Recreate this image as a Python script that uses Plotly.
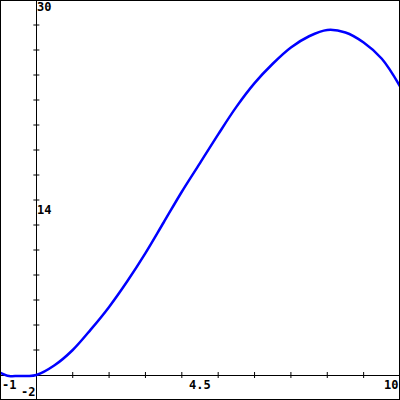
import plotly.graph_objects as go

# curve samples
x_vals = [-1.0, -0.75, -0.5, -0.25, 0.0, 0.5, 1.0, 1.5, 2.0, 2.5, 3.0, 3.5, 4.0,
          4.5, 5.0, 5.5, 6.0, 6.5, 7.0, 7.5, 8.0, 8.5, 9.0, 9.5, 10.0]
y_vals = [0.2, -0.08, -0.08, -0.08, 0.0, 0.78, 2.0, 3.65, 5.45, 7.5, 9.75, 12.2, 14.66,
          16.95, 19.25, 21.45, 23.35, 24.9, 26.2, 27.1, 27.6, 27.4, 26.6, 25.3, 23.1]

x_range = [-1, 10]
y_range = [-2, 30]
x_ticks = [1, 2, 3, 4, 5, 6, 7, 8, 9]
y_ticks = [2, 4, 6, 8, 10, 12, 14, 16, 18, 20, 22, 24, 26, 28]
x_labels = ["-1", "4.5", "10"]
x_label_pos = [-1, 4.5, 10]
y_labels = ["30", "14", "-2"]
y_label_pos = [30, 14, -2]

fig = go.Figure()
fig.add_trace(go.Scatter(x=x_vals, y=y_vals, mode="lines", line_shape="spline",
                         line=dict(color="#0000ff", width=2.5), hoverinfo="skip"))

shapes = []
for t in x_ticks:
    shapes.append(dict(type="line", xref="x", yref="y", ysizemode="pixel", yanchor=0,
                       x0=t, x1=t, y0=-3, y1=3, line=dict(color="black", width=1)))
for t in y_ticks:
    shapes.append(dict(type="line", xref="x", yref="y", xsizemode="pixel", xanchor=0,
                       x0=-3, x1=3, y0=t, y1=t, line=dict(color="black", width=1)))
shapes.append(dict(type="rect", xref="paper", yref="paper", x0=0, x1=1, y0=0, y1=1,
                   line=dict(color="black", width=2)))

font = dict(family="DejaVu Sans Mono", size=12, color="black")
ann = []
anchors_x = ["left", "center", "right"]
for lab, pos, xa in zip(x_labels, x_label_pos, anchors_x):
    ann.append(dict(x=pos, y=0, xref="x", yref="y", text="<b>%s</b>" % lab, showarrow=False,
                    xanchor=xa, yanchor="top", yshift=-1, font=font))
ann.append(dict(x=0, y=y_label_pos[0], xref="x", yref="y", text="<b>%s</b>" % y_labels[0],
                showarrow=False, xanchor="left", yanchor="top", yshift=2, xshift=-1, font=font))
ann.append(dict(x=0, y=y_label_pos[1], xref="x", yref="y", text="<b>%s</b>" % y_labels[1],
                showarrow=False, xanchor="left", yanchor="top", yshift=-1, xshift=-1, font=font))
ann.append(dict(x=0, y=y_label_pos[2], xref="x", yref="y", text="<b>%s</b>" % y_labels[2],
                showarrow=False, xanchor="right", yanchor="bottom", yshift=-1, xshift=1, font=font))

fig.update_layout(
    width=400, height=400, margin=dict(l=0, r=0, t=0, b=0),
    paper_bgcolor="white", plot_bgcolor="white", showlegend=False,
    xaxis=dict(range=x_range, showgrid=False, zeroline=True, zerolinecolor="black",
               zerolinewidth=1, showticklabels=False, ticks="", fixedrange=True),
    yaxis=dict(range=y_range, showgrid=False, zeroline=True, zerolinecolor="black",
               zerolinewidth=1, showticklabels=False, ticks="", fixedrange=True),
    shapes=shapes, annotations=ann,
)
fig.write_html("out.html", config={"displayModeBar": False},
               post_script="document.body.style.margin='0';document.body.style.overflow='hidden';")
